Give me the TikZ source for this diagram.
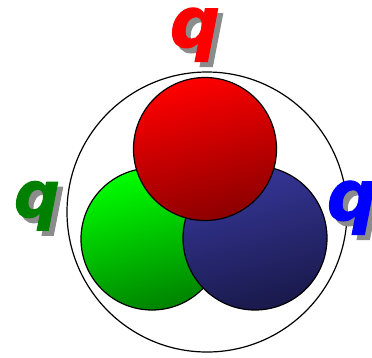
\documentclass[tikz,border=0pt]{standalone}
\usepackage{fontspec}
\newfontfamily\qfont[BoldItalicFeatures={FakeBold=1.5}]{DejaVu Sans}
\definecolor{shadowgray}{HTML}{8C8C8C}
\tikzset{
  qlabel/.style={font=\qfont\bfseries\itshape\fontsize{70}{70}\selectfont, inner sep=0pt, anchor=base},
  qsmall/.style={qlabel, font=\qfont\bfseries\itshape\fontsize{64}{64}\selectfont},
  ball/.style={draw=black, line width=1.2pt},
}
\begin{document}
\begin{tikzpicture}[x=1pt,y=-1pt]
\useasboundingbox (0,0) rectangle (372,357);
\node[circle, draw=black, line width=1.2pt, minimum size=280pt, inner sep=0pt] (outer) at (207,212) {};
\shade[ball, top color={rgb,255:red,0;green,255;blue,0}, bottom color={rgb,255:red,0;green,130;blue,0}, shading angle=15] (152,239) circle (71);
\shade[ball, top color={rgb,255:red,55;green,55;blue,155}, bottom color={rgb,255:red,25;green,25;blue,75}, shading angle=15] (255,238) circle (72);
\shade[ball, top color={rgb,255:red,255;green,0;blue,0}, bottom color={rgb,255:red,140;green,0;blue,0}, shading angle=15] (205,149) circle (71.5);
\node[qlabel, text=shadowgray] (rqs) at (200,52) {q};
\node[qlabel, text=red] (rq) at (195,47) {q};
\node[qsmall, text=shadowgray] (gqs) at (42,222) {q};
\node[qsmall, text={rgb,255:red,0;green,128;blue,0}] (gq) at (37,217) {q};
\node[qlabel, text=shadowgray] (bqs) at (357,225) {q};
\node[qlabel, text=blue] (bq) at (352,220) {q};
\end{tikzpicture}
\end{document}
